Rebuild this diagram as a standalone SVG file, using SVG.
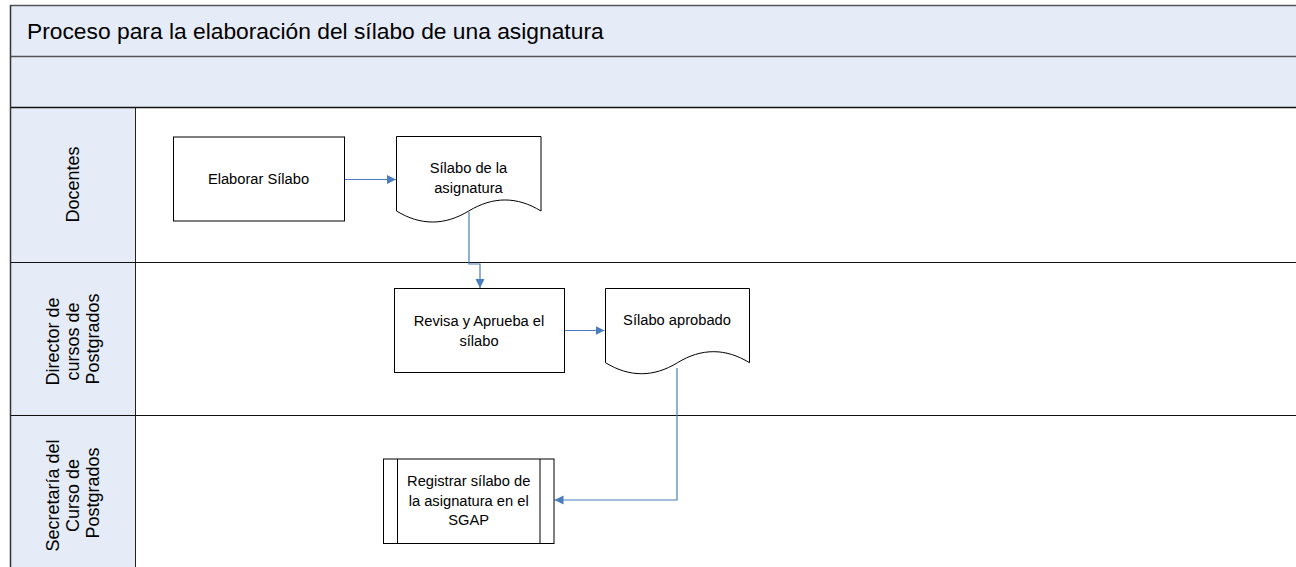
<svg xmlns="http://www.w3.org/2000/svg" width="1296" height="567" viewBox="0 0 1296 567">
  <style>
    .band { fill: #E5ECF7; }
    .frame { fill: none; stroke: #222; stroke-width: 1; }
    .node { fill: #FFFFFF; stroke: #000; stroke-width: 1; }
    .t { font-family: "Liberation Sans", Arial, sans-serif; font-size: 14.7px; fill: #000; text-anchor: middle; }
    .lane { font-family: "Liberation Sans", Arial, sans-serif; font-size: 18px; fill: #000; text-anchor: middle; }
    .title { font-family: "Liberation Sans", Arial, sans-serif; font-size: 22.8px; fill: #000; }
    .conn { fill: none; stroke: #4A7DC0; stroke-width: 1.2; }
  </style>
  <defs>
    <marker id="arr" markerUnits="userSpaceOnUse" markerWidth="10" markerHeight="10" refX="9" refY="4.5" orient="auto">
      <path d="M0,0 L9,4.5 L0,9 Z" fill="#4A7DC0"/>
    </marker>
  </defs>
  <rect x="0" y="0" width="1296" height="567" fill="#FFFFFF"/>

  <g id="pool">
    <rect class="band" x="10.5" y="5.5" width="1290" height="102"/>
    <rect class="band" x="10.5" y="107.5" width="125" height="465"/>
    <line x1="10.5" y1="5.5" x2="1296" y2="5.5" stroke="#555" stroke-width="1.5"/>
    <line x1="10.5" y1="56.5" x2="1296" y2="56.5" stroke="#555" stroke-width="1.5"/>
    <line x1="10.5" y1="107.5" x2="1296" y2="107.5" stroke="#111" stroke-width="1.5"/>
    <line x1="10.5" y1="5" x2="10.5" y2="567" stroke="#333" stroke-width="1.5"/>
    <line x1="135.5" y1="107.5" x2="135.5" y2="567" stroke="#222" stroke-width="1"/>
    <line x1="10.5" y1="262.5" x2="1296" y2="262.5" stroke="#111" stroke-width="1.2"/>
    <line x1="10.5" y1="415.5" x2="1296" y2="415.5" stroke="#111" stroke-width="1.2"/>
    <text class="title" x="27" y="39">Proceso para la elaboración del sílabo de una asignatura</text>
  </g>

  <g id="lane-docentes">
    <text class="lane" transform="translate(0,184.5) rotate(-90)" x="0" y="79">Docentes</text>
  </g>
  <g id="lane-director">
    <text class="lane" transform="translate(0,339) rotate(-90)">
      <tspan x="0" y="58.5">Director de</tspan>
      <tspan x="0" y="78.5">cursos de</tspan>
      <tspan x="0" y="98.5">Postgrados</tspan>
    </text>
  </g>
  <g id="lane-secretaria">
    <text class="lane" transform="translate(0,493) rotate(-90)">
      <tspan x="0" y="59">Secretaría del</tspan>
      <tspan x="0" y="79">Curso de</tspan>
      <tspan x="0" y="98.5">Postgrados</tspan>
    </text>
  </g>

  <g id="connectors">
    <path class="conn" d="M344,179.5 H396" marker-end="url(#arr)"/>
    <path class="conn" d="M469,212 V264 H480 V288" marker-end="url(#arr)"/>
    <path class="conn" d="M564,330.5 H604.5" marker-end="url(#arr)"/>
    <path class="conn" d="M677,368 V500 H554.5" marker-end="url(#arr)"/>
  </g>

  <g id="n-elaborar">
    <rect class="node" x="173.5" y="137" width="171" height="84"/>
    <text class="t" x="258.5" y="184">Elaborar Sílabo</text>
  </g>

  <g id="n-silabo-asignatura">
    <path class="node" d="M396.5,136.5 H541 V211 C517,196.3 493,196.3 468.75,211 C444.5,225.7 420.5,225.7 396.5,211 Z"/>
    <text class="t" x="468.5" y="173.3">Sílabo de la</text>
    <text class="t" x="468.5" y="192.7">asignatura</text>
  </g>

  <g id="n-revisa">
    <rect class="node" x="394.5" y="288.5" width="170" height="84"/>
    <text class="t" x="479" y="326">Revisa y Aprueba el</text>
    <text class="t" x="479" y="345.5">sílabo</text>
  </g>

  <g id="n-silabo-aprobado">
    <path class="node" d="M605.5,288.5 H749.5 V362.7 C725.5,348 701.5,348 677.5,362.7 C653.5,377.4 629.5,377.4 605.5,362.7 Z"/>
    <text class="t" x="677" y="325">Sílabo aprobado</text>
  </g>

  <g id="n-registrar">
    <rect class="node" x="383.5" y="459" width="170.5" height="84.5"/>
    <line class="node" x1="397.5" y1="459" x2="397.5" y2="543.5"/>
    <line class="node" x1="540" y1="459" x2="540" y2="543.5"/>
    <text class="t" x="468.7" y="486">Registrar sílabo de</text>
    <text class="t" x="468.7" y="505.5">la asignatura en el</text>
    <text class="t" x="468.7" y="525">SGAP</text>
  </g>
</svg>
